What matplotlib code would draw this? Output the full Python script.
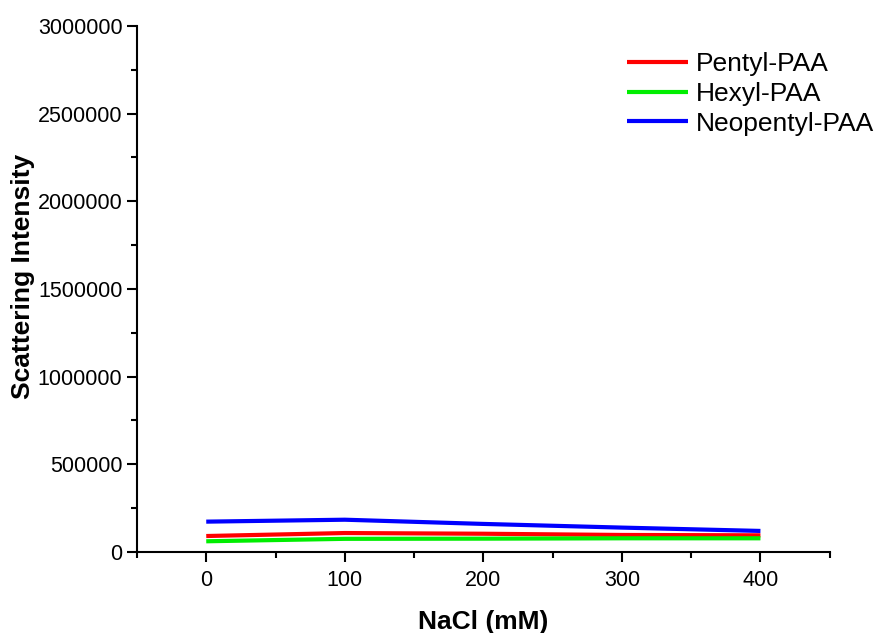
import matplotlib
matplotlib.use("Agg")
import matplotlib.pyplot as plt
from matplotlib.ticker import MultipleLocator

plt.rcParams['font.family'] = ['Liberation Sans', 'DejaVu Sans']

nacl = [0, 100, 200, 300, 400]
pentyl = [91000, 108000, 104000, 97000, 95000]
hexyl = [61000, 75000, 76000, 78000, 78000]
neopentyl = [173000, 184000, 160000, 139000, 120000]

fig = plt.figure(figsize=(8.78, 6.33), dpi=100)
ax = fig.add_axes([0.156, 0.128, 0.789, 0.831])

ax.plot(nacl, pentyl, color='#ff0000', lw=3.0, label='Pentyl-PAA', solid_capstyle='butt')
ax.plot(nacl, hexyl, color='#00ee00', lw=3.0, label='Hexyl-PAA', solid_capstyle='butt')
ax.plot(nacl, neopentyl, color='#0000ff', lw=3.0, label='Neopentyl-PAA', solid_capstyle='butt')

ax.set_xlim(-50, 450)
ax.set_ylim(0, 3000000)
ax.xaxis.set_major_locator(MultipleLocator(100))
ax.xaxis.set_minor_locator(MultipleLocator(50))
ax.yaxis.set_major_locator(MultipleLocator(500000))
ax.yaxis.set_minor_locator(MultipleLocator(250000))
ax.ticklabel_format(style='plain', axis='y')

for s in ['top', 'right']:
    ax.spines[s].set_visible(False)
for s in ['left', 'bottom']:
    ax.spines[s].set_linewidth(1.5)

ax.tick_params(which='major', direction='out', length=7, width=1.5, labelsize=15.5)
ax.tick_params(axis='x', which='major', pad=6)
ax.tick_params(which='minor', direction='out', length=4.5, width=1.5)

ax.set_xlabel('NaCl (mM)', fontsize=19, fontweight='bold', labelpad=14)
ax.set_ylabel('Scattering Intensity', fontsize=19, fontweight='bold', labelpad=2)
ax.yaxis.label.set_y(0.523)

leg = ax.legend(loc='upper left', bbox_to_anchor=(627 / 878, 1 - 52 / 633),
                bbox_transform=fig.transFigure, frameon=False, fontsize=19,
                handlelength=2.3, handletextpad=0.3, labelspacing=0.22,
                borderpad=0, borderaxespad=0)

fig.savefig('out.png', dpi=100)
